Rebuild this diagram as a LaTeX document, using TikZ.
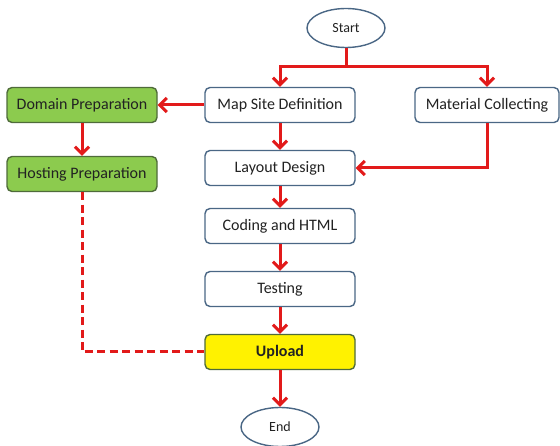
\documentclass[tikz,border=0pt]{standalone}
\usepackage{fontspec}
\setmainfont{Carlito}
\usetikzlibrary{arrows.meta,shapes.geometric}
\definecolor{boxline}{HTML}{4A6785}
\definecolor{greenfill}{HTML}{8CCB4E}
\definecolor{greenline}{HTML}{4F6B3A}
\definecolor{flowred}{HTML}{E21A1A}
\definecolor{txt}{HTML}{222222}
\tikzset{
  proc/.style={draw=boxline, line width=1.4pt, rounded corners=5pt, fill=white,
    minimum width=150pt, minimum height=35pt, inner sep=0pt,
    font=\fontsize{16}{19}\selectfont, text=txt},
  greenbox/.style={proc, fill=greenfill, draw=greenline},
  yellowbox/.style={proc, fill=yellow, draw=greenline, font=\fontsize{16}{19}\selectfont\bfseries},
  term/.style={ellipse, draw=boxline, line width=1.4pt, fill=white,
    minimum width=78pt, minimum height=39pt, inner sep=0pt,
    font=\fontsize{14}{17}\selectfont, text=txt},
  flow/.style={draw=flowred, line width=3pt},
  flowarrow/.style={flow, -{Straight Barb[length=7pt,width=14pt,line width=3pt]}},
  dashflow/.style={flow, dash pattern=on 8pt off 4.5pt},
}
\begin{document}
\begin{tikzpicture}[x=1pt,y=-1pt]
\useasboundingbox (0,0) rectangle (560,446);
\node[term] (start) at (346,28) {Start};
\node[proc] (map) at (280,105) {Map Site Definition};
\node[proc, minimum width=144pt] (mat) at (487,105) {Material Collecting};
\node[greenbox] (dom) at (82,105) {Domain Preparation};
\node[greenbox] (host) at (82,174) {Hosting Preparation};
\node[proc] (layout) at (280,168) {Layout Design};
\node[proc] (coding) at (280,226) {Coding and HTML};
\node[proc] (testing) at (280,289) {Testing};
\node[yellowbox] (upload) at (280,352) {Upload};
\node[term] (end) at (280,427) {End};
\coordinate (br) at (346,67);
\draw[flow] (start.south) -- (br);
\draw[flowarrow] (br) -| (map.north);
\draw[flowarrow] (br) -| (mat.north);
\draw[flowarrow] (map.west) -- (dom.east);
\draw[flowarrow] (map.south) -- (layout.north);
\draw[flowarrow] (mat.south) |- (layout.east);
\draw[flowarrow] (dom.south) -- (host.north);
\draw[flowarrow] (layout.south) -- (coding.north);
\draw[flowarrow] (coding.south) -- (testing.north);
\draw[flowarrow] (testing.south) -- (upload.north);
\draw[flowarrow] (upload.south) -- (end.north);
\draw[dashflow] (host.south) |- (upload.west);
\end{tikzpicture}
\end{document}
